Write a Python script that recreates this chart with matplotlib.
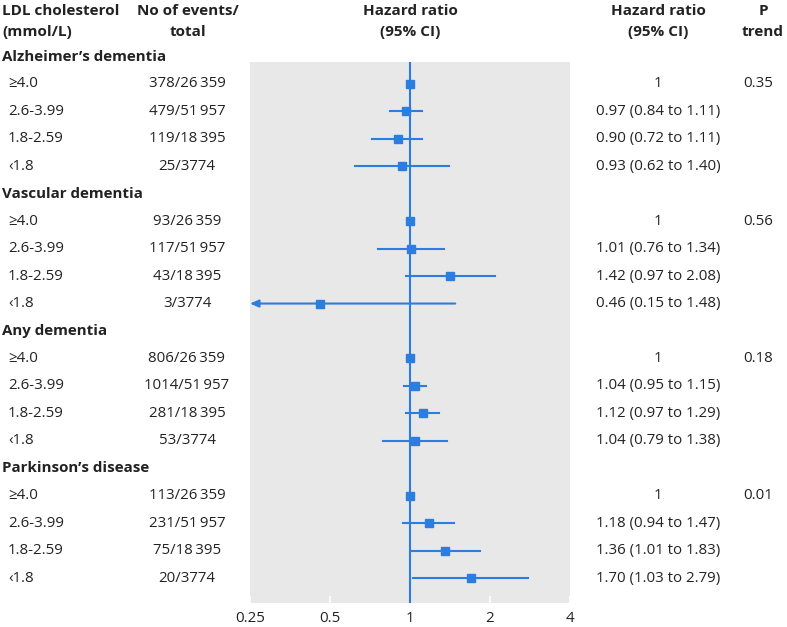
import numpy as np
import matplotlib.pyplot as plt
from matplotlib.transforms import blended_transform_factory

plt.rcParams['font.family'] = ['Open Sans', 'DejaVu Sans']

# data
groups = ["Alzheimer\u2019s dementia", "Vascular dementia", "Any dementia", "Parkinson\u2019s disease"]
ldl_levels = ["\u22654.0", "2.6-3.99", "1.8-2.59", "\u20391.8"]
events = [
    ["378/26\u2009359", "479/51\u2009957", "119/18\u2009395", "25/3774"],
    ["93/26\u2009359", "117/51\u2009957", "43/18\u2009395", "3/3774"],
    ["806/26\u2009359", "1014/51\u2009957", "281/18\u2009395", "53/3774"],
    ["113/26\u2009359", "231/51\u2009957", "75/18\u2009395", "20/3774"],
]
hr = [
    [1, 0.97, 0.90, 0.93],
    [1, 1.01, 1.42, 0.46],
    [1, 1.04, 1.12, 1.04],
    [1, 1.18, 1.36, 1.70],
]
lo = [
    [1, 0.84, 0.72, 0.62],
    [1, 0.76, 0.97, 0.15],
    [1, 0.95, 0.97, 0.79],
    [1, 0.94, 1.01, 1.03],
]
hi = [
    [1, 1.11, 1.11, 1.40],
    [1, 1.34, 2.08, 1.48],
    [1, 1.15, 1.29, 1.38],
    [1, 1.47, 1.83, 2.79],
]
p_trend = ["0.35", "0.56", "0.18", "0.01"]
xticks = [0.25, 0.5, 1, 2, 4]

blue = '#2b7de0'
W, H = 787, 627
fig = plt.figure(figsize=(W / 100, H / 100), dpi=100)
ax = fig.add_axes([250 / W, 24 / H, 320 / W, (603 - 62) / H])
ax.set_facecolor('#e8e8e8')
ax.set_xscale('log', base=2)
ax.set_xlim(0.25, 4)
ax.set_ylim(19.91, 0.2)
for s in ax.spines.values():
    s.set_visible(False)
fs = 10.8
hfs = 11
tc = '#222222'
ax.set_xticks(xticks)
ax.set_xticklabels([f"{t:g}" for t in xticks])
ax.minorticks_off()
ax.tick_params(axis='x', direction='in', color='white', length=5, width=1.2,
               labelsize=fs, labelcolor=tc, pad=6)
ax.set_yticks([])
ax.axvline(1, color=blue, lw=1.5, zorder=2)

tr = blended_transform_factory(fig.transFigure, ax.transData)

def fx(px):
    return px / W

row = 0
for g in range(4):
    ax.text(fx(2), row, groups[g], transform=tr, fontsize=10.9, fontweight='bold',
            color=tc, va='center', ha='left', clip_on=False)
    for k in range(4):
        y = row + 1 + k
        ax.text(fx(8), y, ldl_levels[k], transform=tr, fontsize=fs, color=tc,
                va='center', ha='left')
        ax.text(fx(187), y, events[g][k], transform=tr, fontsize=fs, color=tc,
                va='center', ha='center')
        if k == 0:
            label = "1"
        else:
            label = f"{hr[g][k]:.2f} ({lo[g][k]:.2f} to {hi[g][k]:.2f})"
        ax.text(fx(658), y, label, transform=tr, fontsize=fs, color=tc,
                va='center', ha='center')
        if k == 0:
            ax.text(fx(758), y, p_trend[g], transform=tr, fontsize=fs, color=tc,
                    va='center', ha='center')
        if hi[g][k] != lo[g][k]:
            if lo[g][k] < 0.25:
                ax.annotate('', xy=(0.25, y), xytext=(hi[g][k], y),
                            arrowprops=dict(arrowstyle='-|>,head_length=0.5,head_width=0.22',
                                            color=blue, lw=1.5, shrinkA=0, shrinkB=0),
                            zorder=3)
            else:
                ax.plot([lo[g][k], hi[g][k]], [y, y], color=blue, lw=1.5, zorder=3)
        ax.plot(hr[g][k], y, 's', color=blue, ms=5.5, zorder=4)
    row += 5

# column headers
hy1, hy2 = 11 / H, 32 / H
fig.text(fx(2), 1 - hy1, "LDL cholesterol", fontsize=hfs, fontweight='bold', color=tc, va='center')
fig.text(fx(2), 1 - hy2, "(mmol/L)", fontsize=hfs, fontweight='bold', color=tc, va='center')
fig.text(fx(188), 1 - hy1, "No of events/", fontsize=hfs, fontweight='bold', color=tc, va='center', ha='center')
fig.text(fx(188), 1 - hy2, "total", fontsize=hfs, fontweight='bold', color=tc, va='center', ha='center')
fig.text(fx(410), 1 - hy1, "Hazard ratio", fontsize=hfs, fontweight='bold', color=tc, va='center', ha='center')
fig.text(fx(410), 1 - hy2, "(95% CI)", fontsize=hfs, fontweight='bold', color=tc, va='center', ha='center')
fig.text(fx(658), 1 - hy1, "Hazard ratio", fontsize=hfs, fontweight='bold', color=tc, va='center', ha='center')
fig.text(fx(658), 1 - hy2, "(95% CI)", fontsize=hfs, fontweight='bold', color=tc, va='center', ha='center')
fig.text(fx(763), 1 - hy1, "P", fontsize=hfs, fontweight='bold', color=tc, va='center', ha='center')
fig.text(fx(763), 1 - hy2, "trend", fontsize=hfs, fontweight='bold', color=tc, va='center', ha='center')

fig.savefig('out.png', dpi=100, facecolor='white')
